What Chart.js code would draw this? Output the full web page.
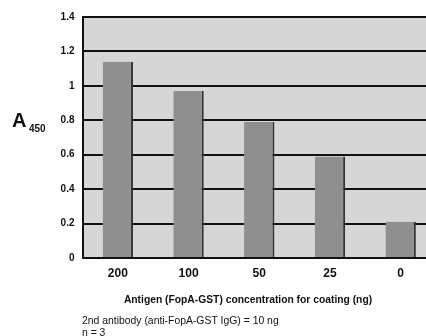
<!DOCTYPE html>
<html>
<head>
<meta charset="utf-8">
<script src="https://cdn.jsdelivr.net/npm/chart.js@4"></script>
<style>
html,body{margin:0;padding:0;background:#fff;overflow:hidden;width:426px;height:336px;}
canvas{display:block;}
</style>
</head>
<body>
<canvas id="c" width="440" height="336"></canvas>
<script>
const categories = ['200', '100', '50', '25', '0'];
const absorbance = [1.14, 0.97, 0.79, 0.59, 0.21];
const yTickLabels = ['0', '0.2', '0.4', '0.6', '0.8', '1', '1.2', '1.4'];
const xTitle = 'Antigen (FopA-GST) concentration for coating (ng)';
const noteLines = ['2nd antibody (anti-FopA-GST IgG) = 10 ng', 'n = 3'];

const FONT = '"Liberation Sans", Arial, sans-serif';

const extras = {
  id: 'extras',
  beforeDraw(chart) {
    const {ctx, chartArea: a} = chart;
    ctx.save();
    ctx.fillStyle = '#d6d6d6';
    ctx.fillRect(a.left, a.top, a.right - a.left, a.bottom - a.top);
    ctx.restore();
  },
  afterDraw(chart) {
    const {ctx} = chart;
    ctx.save();
    ctx.fillStyle = '#111';
    ctx.textBaseline = 'alphabetic';
    ctx.textAlign = 'left';
    ctx.font = 'bold 20px ' + FONT;
    ctx.fillText('A', 12, 127);
    ctx.font = 'bold 10px ' + FONT;
    ctx.fillText('450', 29, 132);
    ctx.textAlign = 'center';
    ctx.font = 'bold 10.3px ' + FONT;
    ctx.fillText(xTitle, 248, 303);
    ctx.textAlign = 'left';
    ctx.font = '10.4px ' + FONT;
    ctx.fillText(noteLines[0], 82, 324);
    ctx.fillText(noteLines[1], 82, 336);
    ctx.restore();
  }
};

new Chart(document.getElementById('c'), {
  type: 'bar',
  data: {
    labels: categories,
    datasets: [{
      data: absorbance,
      backgroundColor: '#8f8f8f',
      borderColor: '#333',
      borderWidth: {left: 0, right: 2, top: 0, bottom: 0},
      borderSkipped: false,
      categoryPercentage: 1,
      barPercentage: 0.43
    }]
  },
  options: {
    responsive: false,
    devicePixelRatio: 1,
    animation: false,
    layout: {padding: {top: 17, right: 4, left: 0, bottom: 0}},
    plugins: {legend: {display: false}, tooltip: {enabled: false}},
    scales: {
      x: {
        grid: {display: false, drawTicks: false},
        border: {display: true, color: '#111', width: 2},
        ticks: {color: '#111', font: {family: FONT, size: 12, weight: 'bold'}, padding: 8},
        afterFit(s) { s.height = 78; }
      },
      y: {
        min: 0, max: 1.4,
        ticks: {
          stepSize: 0.2,
          color: '#111',
          padding: 8,
          font: {family: FONT, size: 10, weight: 'bold'},
          callback: (v, i) => yTickLabels[i]
        },
        grid: {color: '#111', lineWidth: 2, drawTicks: false},
        border: {display: true, color: '#111', width: 2},
        afterFit(s) { s.width = 82.5; }
      }
    }
  },
  plugins: [extras]
});
</script>
</body>
</html>
